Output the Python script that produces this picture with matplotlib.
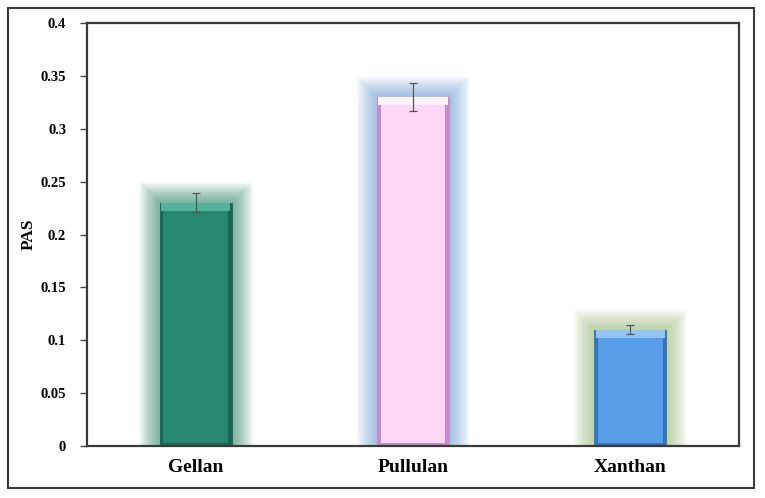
import matplotlib
matplotlib.use("Agg")
import matplotlib.pyplot as plt
import matplotlib.patheffects as pe
from matplotlib.patches import Rectangle

# datos
polimeros = ['Gellan', 'Pullulan', 'Xanthan']
pas = [0.23, 0.33, 0.11]
pas_err = [0.009, 0.013, 0.004]

# estilo de cada barra: (cara, lado oscuro, brillo superior, halo)
CARA = ['#26896f', '#fcd8f6', '#579ee6']
LADO = ['#1a6652', '#c48ccc', '#3574bd']
BRILLO = ['#55b39a', '#fff2fd', '#92c4f6']
HALO = ['#2f8a6a', '#6fa6d8', '#9fbf7a']

plt.rcParams['font.family'] = ['Liberation Serif', 'DejaVu Serif']

fig = plt.figure(figsize=(7.65, 4.98), dpi=100)
ax = fig.add_axes([0.1137, 0.1044, 0.8523, 0.8494])

x = range(len(polimeros))
ancho = 0.33

for i, (xi, v) in enumerate(zip(x, pas)):
    # halo difuso
    halo = ax.bar(xi, v, width=ancho, color=HALO[i], edgecolor=HALO[i],
                  linewidth=0.1, alpha=0.0, zorder=1)
    efectos = [pe.withStroke(linewidth=lw, foreground=HALO[i], alpha=0.028)
               for lw in range(30, 0, -1)]
    halo[0].set_path_effects(efectos)
    # cuerpo (lados oscuros)
    ax.bar(xi, v, width=ancho, color=LADO[i], edgecolor=LADO[i], linewidth=0.6, zorder=2)
    # bisel superior claro
    ax.bar(xi, 0.008, bottom=v - 0.008, width=ancho - 0.01, color=BRILLO[i],
           linewidth=0, zorder=3)
    # cara frontal
    ax.bar(xi, v - 0.011, bottom=0.003, width=ancho - 0.032, color=CARA[i],
           linewidth=0, zorder=4)

ax.errorbar(list(x), pas, yerr=pas_err, fmt='none', ecolor='#555555',
            elinewidth=0.9, capsize=3, capthick=0.9, zorder=6)

ax.set_xlim(-0.5, 2.5)
ax.set_ylim(0, 0.4)
ax.set_yticks([0, 0.05, 0.1, 0.15, 0.2, 0.25, 0.3, 0.35, 0.4])
ax.set_yticklabels(['0', '0.05', '0.1', '0.15', '0.2', '0.25', '0.3', '0.35', '0.4'])
ax.set_xticks(list(x))
ax.set_xticklabels(polimeros, fontsize=14, fontweight='bold')
ax.tick_params(axis='x', length=0, pad=9)
ax.tick_params(axis='y', length=5, width=1, color='#444444', labelsize=10.5, pad=10)
for t in ax.get_yticklabels():
    t.set_fontweight('bold')
ax.set_ylabel('PAS', fontsize=12.5, fontweight='bold')
ax.yaxis.set_label_coords(-0.077, 0.5)

for s in ax.spines.values():
    s.set_linewidth(1.6)
    s.set_color('#3a3a3a')

# marco exterior
fig.patches.append(Rectangle((8 / 765, 0.02), 746 / 765, 0.964, transform=fig.transFigure,
                             fill=False, edgecolor='#3a3a3a', linewidth=1.5))

fig.savefig('out.png', dpi=100)
